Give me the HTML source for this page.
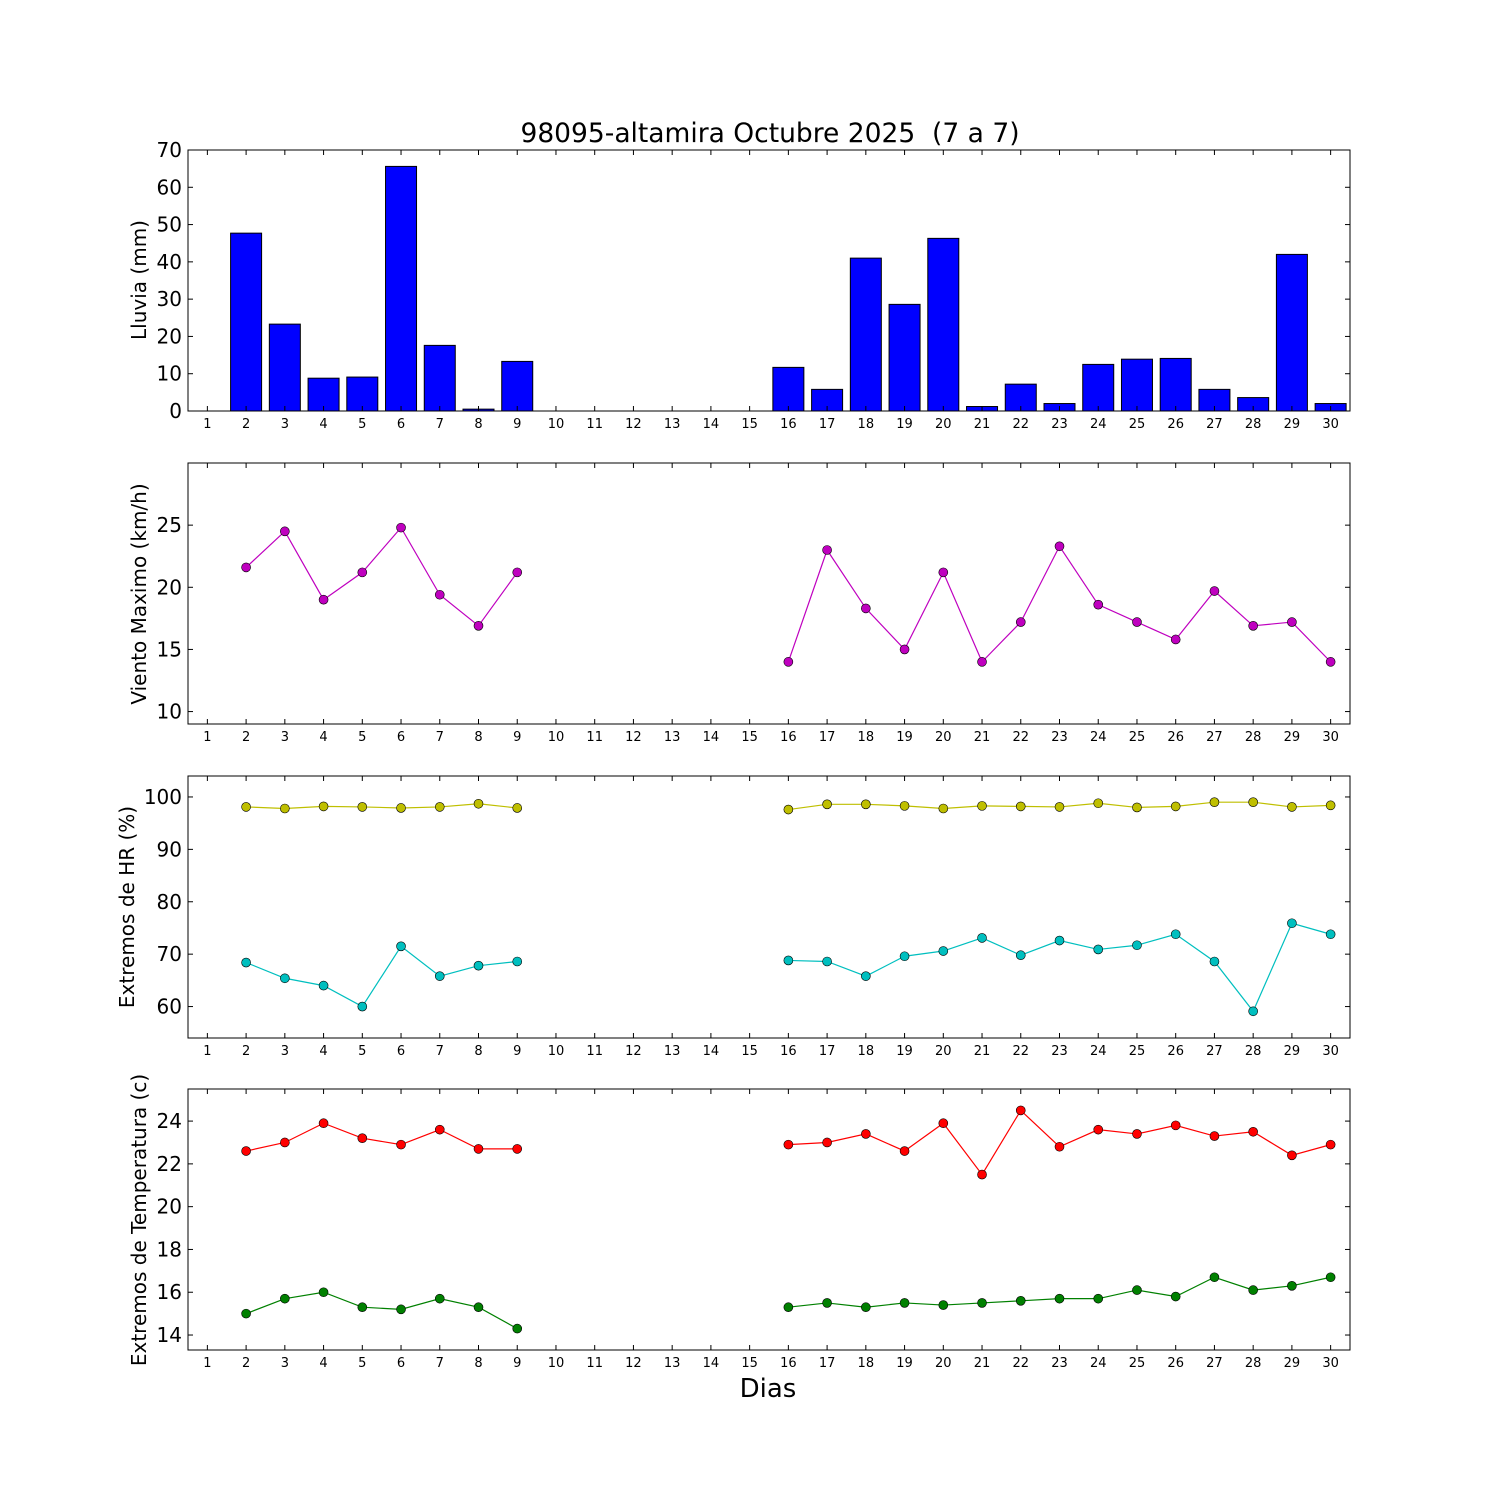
<!DOCTYPE html>
<html><head><meta charset="utf-8"><style>body{margin:0;background:#fff}svg{display:block}text{font-family:"DejaVu Sans","Liberation Sans",sans-serif}</style></head>
<body>
<svg id="s" width="1500" height="1500" xmlns="http://www.w3.org/2000/svg">
<rect width="1500" height="1500" fill="#fff"/>
<text x="770" y="142" font-size="26.5" text-anchor="middle" style="white-space:pre">98095-altamira Octubre 2025  (7 a 7)</text>
<text x="768" y="1397" font-size="26" text-anchor="middle">Dias</text>
<text transform="translate(146,280) rotate(-90)" font-size="20" text-anchor="middle">Lluvia (mm)</text>
<text transform="translate(146,594) rotate(-90)" font-size="20" text-anchor="middle">Viento Maximo (km/h)</text>
<text transform="translate(134,907) rotate(-90)" font-size="20" text-anchor="middle">Extremos de HR (%)</text>
<text transform="translate(146,1220) rotate(-90)" font-size="20" text-anchor="middle">Extremos de Temperatura (c)</text>
</svg>
<script>
var s=document.getElementById('s'),NS='http://www.w3.org/2000/svg';
function el(t,a,txt){var e=document.createElementNS(NS,t);for(var k in a)e.setAttribute(k,a[k]);if(txt!==undefined)e.textContent=txt;s.appendChild(e);return e;}
var L=188,R=1350,W=R-L;function X(d){return L+(d-0.5)*W/30;}
var N=null;
function panel(top,bot,y0,y1,ticks,draw){
 var Y=function(v){return bot-(v-y0)/(y1-y0)*(bot-top);};
 draw(Y);
 el('rect',{x:L,y:top,width:W,height:bot-top,fill:'none',stroke:'#000','stroke-width':1});
 ticks.forEach(function(t){var y=Y(t);el('line',{x1:L,x2:L+5,y1:y,y2:y,stroke:'#000'});el('line',{x1:R-5,x2:R,y1:y,y2:y,stroke:'#000'});
  el('text',{x:L-6,y:y+7,'font-size':20,'text-anchor':'end'},String(t));});
 for(var d=1;d<=30;d++){var x=X(d);el('line',{x1:x,x2:x,y1:bot,y2:bot-5,stroke:'#000'});el('line',{x1:x,x2:x,y1:top,y2:top+5,stroke:'#000'});
  el('text',{x:x,y:bot+17,'font-size':13,'text-anchor':'middle'},String(d));}
}
function series(Y,vals,col){var seg=[];vals.forEach(function(v,i){if(v===N){if(seg.length)line(seg);seg=[];}else seg.push([X(i+1),Y(v)]);});if(seg.length)line(seg);
 function line(p){el('polyline',{points:p.map(function(q){return q.join(',')}).join(' '),fill:'none',stroke:col,'stroke-width':1.2});}
 vals.forEach(function(v,i){if(v!==N)el('circle',{cx:X(i+1),cy:Y(v),r:4.5,fill:col,stroke:'#000','stroke-width':0.6});});}
function fill(a,b){var r=[N];for(var i=0;i<8;i++)r.push(a[i]);for(i=0;i<6;i++)r.push(N);return r.concat(b);}
var rain=fill([47.7,23.3,8.8,9.1,65.6,17.6,0.5,13.3],[11.7,5.8,41,28.6,46.3,1.2,7.2,2,12.5,13.9,14.1,5.8,3.6,42,2]);
panel(150,411,0,70,[0,10,20,30,40,50,60,70],function(Y){rain.forEach(function(v,i){if(v!==N){var x=X(i+1);el('rect',{x:x-15.5,y:Y(v),width:31,height:411-Y(v),fill:'#0000ff',stroke:'#000','stroke-width':1});}});});
var wind=fill([21.6,24.5,19,21.2,24.8,19.4,16.9,21.2],[14,23,18.3,15,21.2,14,17.2,23.3,18.6,17.2,15.8,19.7,16.9,17.2,14]);
panel(463,724,9,30,[10,15,20,25],function(Y){series(Y,wind,'#bf00bf');});
var hx=fill([98.1,97.8,98.2,98.1,97.9,98.1,98.7,97.9],[97.6,98.6,98.6,98.3,97.8,98.3,98.2,98.1,98.8,98,98.2,99,99,98.1,98.4]);
var hn=fill([68.4,65.4,64,60,71.5,65.8,67.8,68.6],[68.8,68.6,65.8,69.6,70.6,73.1,69.8,72.6,70.9,71.7,73.8,68.6,59.1,75.9,73.8]);
panel(776,1038,54,104,[60,70,80,90,100],function(Y){series(Y,hx,'#bfbf00');series(Y,hn,'#00bfbf');});
var tx=fill([22.6,23,23.9,23.2,22.9,23.6,22.7,22.7],[22.9,23,23.4,22.6,23.9,21.5,24.5,22.8,23.6,23.4,23.8,23.3,23.5,22.4,22.9]);
var tn=fill([15,15.7,16,15.3,15.2,15.7,15.3,14.3],[15.3,15.5,15.3,15.5,15.4,15.5,15.6,15.7,15.7,16.1,15.8,16.7,16.1,16.3,16.7]);
panel(1089,1350,13.3,25.5,[14,16,18,20,22,24],function(Y){series(Y,tx,'#ff0000');series(Y,tn,'#008000');});
</script>
</body></html>
